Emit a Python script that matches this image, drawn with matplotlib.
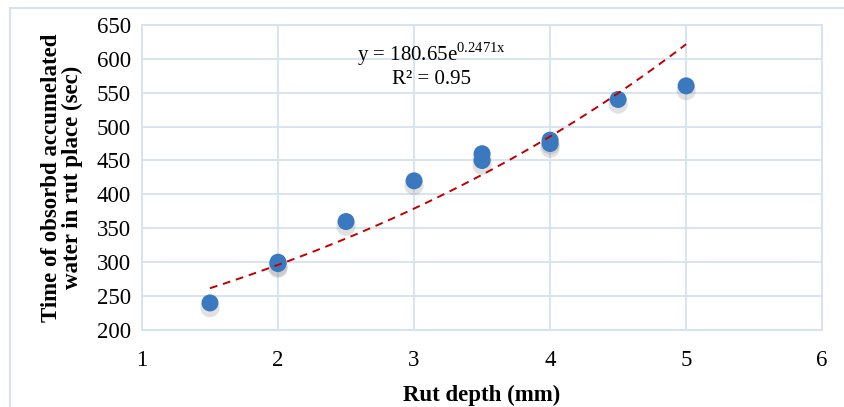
import numpy as np
import matplotlib
matplotlib.use('Agg')
import matplotlib.pyplot as plt
from matplotlib.patches import Rectangle

rut_depth = [1.5, 2.0, 2.0, 2.5, 3.0, 3.5, 3.5, 4.0, 4.0, 4.5, 5.0]
time_sec = [240, 300, 298, 360, 420, 450, 460, 475, 480, 540, 560]
fit_a = 180.65
fit_b = 0.2471
x_ticks = [1, 2, 3, 4, 5, 6]
y_ticks = [200, 250, 300, 350, 400, 450, 500, 550, 600, 650]

plt.rcParams['font.family'] = ['Liberation Serif', 'DejaVu Serif']
plt.rcParams['mathtext.fontset'] = 'custom'
plt.rcParams['mathtext.rm'] = 'Liberation Serif'

fig = plt.figure(figsize=(8.45, 4.07), dpi=100)
ax = fig.add_axes([0.168, 0.189, 0.805, 0.75])

grid_col = '#d6e2f2'
ax.set_xlim(1, 6)
ax.set_ylim(200, 650)
ax.set_xticks(x_ticks)
ax.set_yticks(y_ticks)
ax.grid(True, color=grid_col, linewidth=1.3)
ax.set_axisbelow(True)
for s in ax.spines.values():
    s.set_color(grid_col)
    s.set_linewidth(1.3)
ax.tick_params(length=0, labelsize=16.5)
ax.tick_params(axis='x', pad=14)
ax.tick_params(axis='y', pad=8)

# soft shadow then markers
ax.scatter(np.array(rut_depth), np.array(time_sec) - 7, s=190,
           color='#8a8a8a', alpha=0.25, edgecolors='none', zorder=2)
ax.scatter(rut_depth, time_sec, s=150, color='#3a78c0', edgecolors='none', zorder=3)

xf = np.linspace(1.5, 5.0, 100)
ax.plot(xf, fit_a * np.exp(fit_b * xf), color='#c00000', linestyle=(0, (4, 3)),
        linewidth=1.4, zorder=4)

ax.text(3.13, 606, r'y = 180.65e$^{\mathrm{0.2471x}}$', ha='center', va='center', fontsize=15)
ax.text(3.13, 569, 'R² = 0.95', ha='center', va='center', fontsize=15)

ax.set_xlabel('Rut depth (mm)', fontsize=16.5, fontweight='bold', labelpad=10)
ax.set_ylabel('Time of obsorbd accumelated\nwater in rut place (sec)', fontsize=16.5,
              fontweight='bold', labelpad=10, linespacing=1.0)

fig.patches.append(Rectangle((0.012, -0.05), 1.2, 1.03, transform=fig.transFigure,
                             fill=False, edgecolor='#d6e2f2', linewidth=1.5))

fig.savefig('out.png', dpi=100)
